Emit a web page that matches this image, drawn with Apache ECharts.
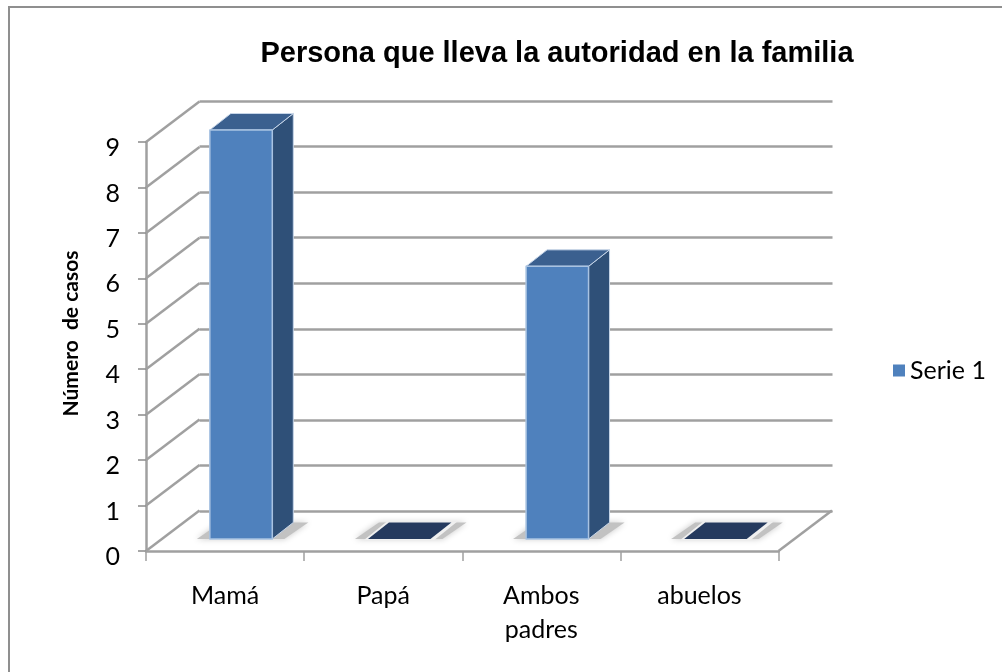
<!DOCTYPE html>
<html><head><meta charset="utf-8">
<style>html,body{margin:0;padding:0;background:#fff}#c{width:1002px;height:672px}</style>
<script src="https://cdn.jsdelivr.net/npm/echarts@6/dist/echarts.min.js"></script>
</head><body><div id="c"></div>
<script>
const categories = ['Mamá', 'Papá', 'Ambos\npadres', 'abuelos'];
const serie1 = [9, 0, 6, 0];
const yTicks = [0, 1, 2, 3, 4, 5, 6, 7, 8, 9];
const seriesName = 'Serie 1';
const titleText = 'Persona que lleva la autoridad en la familia';
const yName = 'Número  de casos';

const WALL_DX = 53.5, WALL_DY = 40.5;
const BAR_DX = 21, BAR_DY = 16.5, BAR_OFF_X = 16, BAR_OFF_Y = 12;
const GRID = '#a0a0a0';
const FRAME = '#8f8f8f';

const chart = echarts.init(document.getElementById('c'), null, {renderer: 'canvas'});
const poly = (pts, fill, stroke, lw, extra) => ({
  type: 'polygon', shape: {points: pts},
  style: Object.assign({fill: fill, stroke: stroke || null, lineWidth: lw || 0, lineJoin: 'round'}, extra || {})
});

chart.setOption({
  animation: false,
  backgroundColor: '#fff',
  title: {
    text: titleText, left: 552, top: 34, textAlign: 'center',
    textStyle: {fontFamily: 'Liberation Sans', fontWeight: 'bold', fontSize: 29, color: '#000'}
  },
  legend: {
    data: [seriesName], left: 893, top: 358, padding: 0, icon: 'rect', itemWidth: 12, itemHeight: 12, itemGap: 7,
    textStyle: {fontFamily: 'Lato', fontSize: 25, color: '#000', padding: 0}
  },
  graphic: [
    {type: 'line', shape: {x1: 9, y1: 6, x2: 9, y2: 672}, silent: true, z: -1, style: {stroke: FRAME, lineWidth: 2}},
    {type: 'line', shape: {x1: 8, y1: 7, x2: 1002, y2: 7}, silent: true, z: -1, style: {stroke: FRAME, lineWidth: 2}}
  ],
  grid: [
    {left: 146, width: 632.5, top: 142, height: 409},
    {left: 199.5, width: 633, top: 101, height: 410}
  ],
  xAxis: [
    {type: 'category', gridIndex: 0, data: categories,
     axisLine: {lineStyle: {color: GRID, width: 2.5}},
     axisTick: {show: true, alignWithLabel: false, length: 10, lineStyle: {color: GRID, width: 1.5}},
     axisLabel: {fontFamily: 'Lato', fontSize: 25, color: '#000', margin: 28, lineHeight: 34, interval: 0, verticalAlign: 'top'}},
    {type: 'category', gridIndex: 1, data: categories, show: false}
  ],
  yAxis: [
    {type: 'value', gridIndex: 0, min: 0, max: 9, interval: 1,
     name: yName, nameLocation: 'middle', nameGap: 64, nameRotate: 90,
     nameTextStyle: {fontFamily: 'Lato', fontWeight: 'bold', fontSize: 21, color: '#000', padding: [0, 0, 0, 26]},
     axisLine: {show: true, lineStyle: {color: GRID, width: 2.5}},
     axisTick: {show: true, length: 8, lineStyle: {color: '#8a8a8a', width: 1.5}},
     axisLabel: {fontFamily: 'Lato', fontSize: 25, color: '#000', margin: 26, verticalAlign: 'top', lineHeight: 12},
     splitLine: {show: false}},
    {type: 'value', gridIndex: 1, min: 0, max: 9, interval: 1,
     axisLine: {show: false}, axisTick: {show: false}, axisLabel: {show: false},
     splitLine: {show: true, lineStyle: {color: GRID, width: 2.5}}}
  ],
  series: [
    {
      type: 'custom', xAxisIndex: 0, yAxisIndex: 0, z: 3, silent: true,
      data: yTicks.map(v => [0, v]), encode: {x: 0, y: 1},
      renderItem(params, api) {
        const y = api.coord([0, api.value(1)])[1];
        const x0 = params.coordSys.x;
        const shapes = [{
          type: 'line', shape: {x1: x0, y1: y, x2: x0 + WALL_DX, y2: y - WALL_DY},
          style: {stroke: GRID, lineWidth: 2.5}
        }];
        if (api.value(1) === 0) {
          const x1 = x0 + params.coordSys.width;
          shapes.push({
            type: 'line', shape: {x1: x1, y1: y, x2: x1 + WALL_DX, y2: y - WALL_DY},
            style: {stroke: GRID, lineWidth: 2.5}
          });
        }
        return {type: 'group', children: shapes};
      }
    },
    {
      name: seriesName, type: 'custom', xAxisIndex: 0, yAxisIndex: 0, z: 5, silent: true,
      itemStyle: {color: '#4f81bd'},
      data: serie1.map((v, i) => [i, v]), encode: {x: 0, y: 1},
      renderItem(params, api) {
        const i = api.value(0), v = api.value(1);
        const top = api.coord([i, v]), base = api.coord([i, 0]);
        const w = api.size([1, 0])[0] * 0.395;
        const L = top[0] + BAR_OFF_X - w / 2, R = L + w;
        const b = base[1] - BAR_OFF_Y, t = top[1] - BAR_OFF_Y;
        const dx = BAR_DX, dy = BAR_DY;
        const kids = [];
        kids.push(poly([[L - 13, b], [R + 12, b], [R + dx + 15, b - dy], [L + dx - 10, b - dy]], '#c2c2c2', null, 0,
          {shadowBlur: 6, shadowColor: '#c8c8c8'}));
        if (v === 0) {
          kids.push(poly([[L - 4, b + 1], [R + 4, b + 1], [R + dx + 6, b - dy - 1], [L + dx - 2, b - dy - 1]], '#f0f0f0'));
          kids.push(poly([[L, b], [R, b], [R + dx, b - dy], [L + dx, b - dy]], '#253a5e'));
        } else {
          kids.push(poly([[R, t], [R + dx, t - dy], [R + dx, b - dy], [R, b]], '#2f5078', '#c6d5e8', 1));
          kids.push(poly([[L, t], [L + dx, t - dy], [R + dx, t - dy], [R, t]], '#3b608f', '#c6d5e8', 1));
          kids.push(poly([[L, t], [R, t], [R, b], [L, b]], api.visual('color'), '#a9c3e2', 1.5));
        }
        return {type: 'group', children: kids};
      }
    }
  ]
});
</script></body></html>
